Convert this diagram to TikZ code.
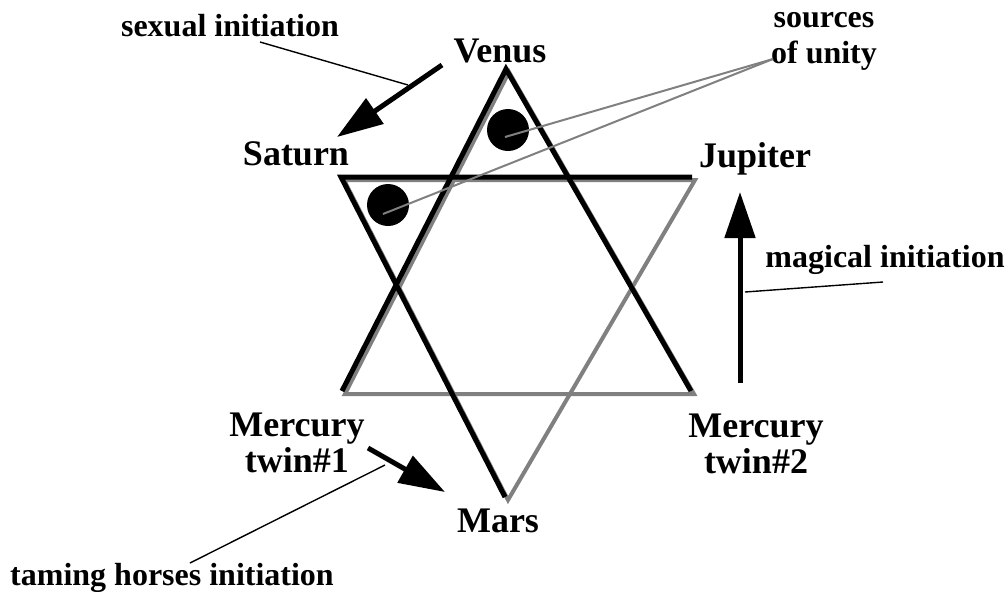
\documentclass[tikz,border=0pt]{standalone}
\usepackage{fontspec}
\setmainfont{Liberation Serif}
\usetikzlibrary{arrows.meta, calc}

\begin{document}
\begin{tikzpicture}[
    x=0.5pt, y=-0.5pt,
    planet/.style={
        font=\fontsize{18}{18}\selectfont\bfseries,
        inner sep=0pt, anchor=base, align=center
    },
    note/.style={
        font=\fontsize{16}{18}\selectfont\bfseries,
        inner sep=0pt, anchor=base, align=center
    },
    shade/.style={line width=2pt, draw=black!50, line join=miter},
    rim/.style={line width=2.5pt, draw=black, line join=miter},
    dot/.style={circle, fill=black, minimum size=21pt, inner sep=0pt},
    move/.style={-{Triangle[length=23pt, width=15pt]}, line width=2.5pt},
    leader/.style={line width=0.7pt, draw=black},
    unity/.style={line width=1pt, draw=black!50}
]
\useasboundingbox (0,0) rectangle (1008,591);

% Star corners (grey layer, the black layer sits slightly up and left)
\coordinate (upA) at (509,72);
\coordinate (upL) at (345,394);
\coordinate (upR) at (694,394);
\coordinate (dnL) at (344,180);
\coordinate (dnR) at (695,180);
\coordinate (dnA) at (508,500);

% Grey star underneath
\draw[shade] (upA) -- (upL) -- (upR) -- cycle;
\draw[shade] (dnL) -- (dnR) -- (dnA) -- cycle;

% Black edges on top
\draw[rim] ([shift={(-3,-3)}]upL) -- ([shift={(-3,-3)}]upA)
    -- ([shift={(-3,-3)}]upR);
\draw[rim] ([shift={(-3,-3)}]dnR) -- ([shift={(-3,-3)}]dnL)
    -- ([shift={(-3,-3)}]dnA);

% Sources of unity
\node[dot] (dotup) at (508,130) {};
\node[dot] (dotleft) at (388,205) {};

% Planet labels (two-line labels sit on their last baseline)
\node[planet] (venus) at (500,62) {Venus};
\node[planet] (saturn) at (296,165) {Saturn};
\node[planet] (jupiter) at (755,167) {Jupiter};
\node[planet] (mercuryone) at (297,472) {Mercury\\twin\#1};
\node[planet] (mercurytwo) at (756,473) {Mercury\\twin\#2};
\node[planet] (mars) at (498,532) {Mars};

% Annotations
\node[note] (sexual) at (230,36) {sexual initiation};
\node[note] (magical) at (885,267) {magical initiation};
\node[note] (taming) at (172,585) {taming horses initiation};
\node[note] (sources) at (824,63) {sources\\of unity};

% Initiation arrows
\coordinate (sexfrom) at (442,65);
\coordinate (sexto) at (337,137);
\coordinate (magfrom) at (740,383);
\coordinate (magto) at (740,192);
\coordinate (tamefrom) at (368,448);
\coordinate (tameto) at (445,492);
\draw[move] (sexfrom) -- (sexto);
\draw[move] (magfrom) -- (magto);
\draw[move] (tamefrom) -- (tameto);

% Leaders from the annotations
\coordinate (sexhit) at (408,85);
\coordinate (maghit) at (745,292);
\coordinate (tamehit) at (385,465);
\draw[leader] (260,42) -- (sexhit);
\draw[leader] (883,282) -- (maghit);
\draw[leader] (190,563) -- (tamehit);

\coordinate (unityend) at (773,59);
\draw[unity] (unityend) -- ([shift={(-3,7)}]dotup.center);
\draw[unity] (unityend) -- ([shift={(-5,9)}]dotleft.center);

\end{tikzpicture}
\end{document}
